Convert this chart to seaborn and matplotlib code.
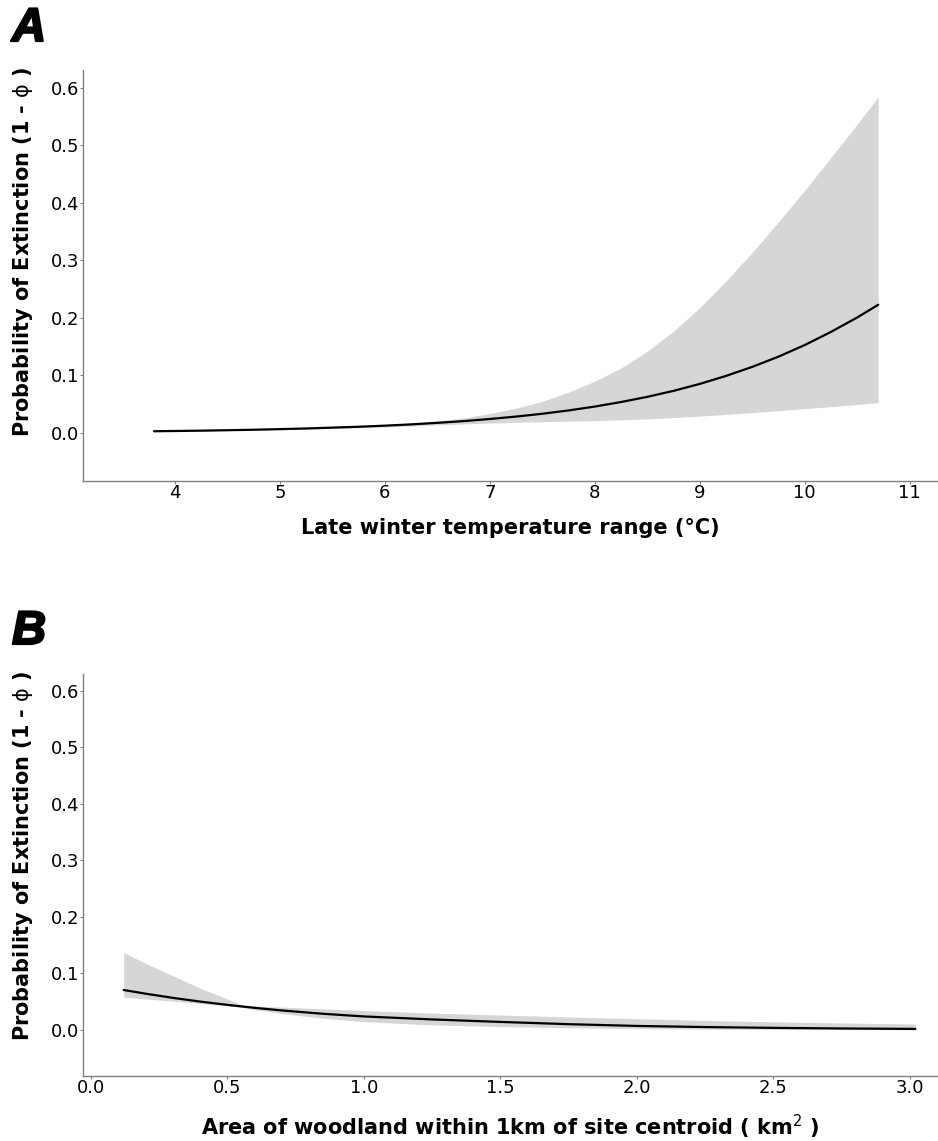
import matplotlib
matplotlib.use("Agg")
import matplotlib.pyplot as plt
import matplotlib.patheffects as pe
import seaborn as sns
import pandas as pd

# ---------------- Data ----------------
# Panel A: late winter temperature range (°C)
temp_x = [3.8, 4.25, 4.75, 5.25, 5.75, 6.0, 6.25, 6.5, 6.75, 7.0, 7.25, 7.5, 7.75,
          8.0, 8.25, 8.5, 8.75, 9.0, 9.25, 9.5, 9.75, 10.0, 10.25, 10.5, 10.7]
temp_mean = [0.0030, 0.0040, 0.0056, 0.0078, 0.0108, 0.0127, 0.0149, 0.0176, 0.0206,
             0.0243, 0.0285, 0.0334, 0.0392, 0.0459, 0.0538, 0.0628, 0.0732, 0.0853,
             0.0992, 0.1149, 0.1327, 0.1529, 0.1757, 0.2008, 0.2229]
temp_upper = [0.0034, 0.0046, 0.0065, 0.0090, 0.0124, 0.0146, 0.0175, 0.0212, 0.0260,
              0.0340, 0.0430, 0.0550, 0.0710, 0.0900, 0.1130, 0.1420, 0.1770, 0.2180,
              0.2640, 0.3140, 0.3670, 0.4220, 0.4790, 0.5370, 0.5840]
temp_lower = [0.0026, 0.0035, 0.0048, 0.0066, 0.0090, 0.0105, 0.0122, 0.0140, 0.0157,
              0.0172, 0.0185, 0.0196, 0.0205, 0.0212, 0.0228, 0.0245, 0.0268, 0.0293,
              0.0322, 0.0353, 0.0387, 0.0423, 0.0458, 0.0495, 0.0527]

# Panel B: area of woodland within 1km of site centroid (km²)
wood_x = [0.12, 0.2, 0.3, 0.4, 0.5, 0.55, 0.6, 0.7, 0.85, 1.0, 1.25, 1.5, 1.75,
          2.0, 2.25, 2.5, 2.75, 3.02]
wood_mean = [0.0708, 0.0643, 0.0569, 0.0503, 0.0445, 0.0418, 0.0392, 0.0346, 0.0287,
             0.0240, 0.0187, 0.0143, 0.0103, 0.0072, 0.0052, 0.0038, 0.0027, 0.0019]
wood_upper = [0.1370, 0.1180, 0.0960, 0.0740, 0.0550, 0.0450, 0.0425, 0.0405, 0.0375,
              0.0345, 0.0300, 0.0265, 0.0230, 0.0200, 0.0170, 0.0145, 0.0125, 0.0105]
wood_lower = [0.0580, 0.0550, 0.0510, 0.0470, 0.0425, 0.0405, 0.0360, 0.0290, 0.0210,
              0.0148, 0.0090, 0.0060, 0.0040, 0.0025, 0.0016, 0.0010, 0.0006, 0.0003]

yticks = [0.0, 0.1, 0.2, 0.3, 0.4, 0.5, 0.6]
xticks_a = [4, 5, 6, 7, 8, 9, 10, 11]
xticks_b = [0.0, 0.5, 1.0, 1.5, 2.0, 2.5, 3.0]

ylabel = "Probability of Extinction (1 - $\\phi$ )"
xlabel_a = "Late winter temperature range (\u00b0C)"
xlabel_b = "Area of woodland within 1km of site centroid ( km$^{2}$ )"

# ---------------- Style ----------------
sns.set_style("white")
plt.rcParams['font.family'] = ['DejaVu Sans']
plt.rcParams['mathtext.fontset'] = 'dejavusans'
plt.rcParams['mathtext.default'] = 'rm'
plt.rcParams['text.color'] = 'black'
plt.rcParams['axes.labelcolor'] = 'black'
plt.rcParams['xtick.color'] = 'black'
plt.rcParams['ytick.color'] = 'black'

W, H = 938, 1141
fig = plt.figure(figsize=(W / 100, H / 100), dpi=100)

def frac_axes(l, t, r, b):
    return fig.add_axes([l / W, 1 - b / H, (r - l) / W, (b - t) / H])

axA = frac_axes(83, 70, 937, 481)
axB = frac_axes(83, 674, 937, 1076)

spine_col = "#808080"
band_col = "#d6d6d6"

def style_axes(ax, xticks, xfmt, xlim, ylim, xlabel, ylab_y, xlab_pad):
    ax.set_xlim(*xlim)
    ax.set_ylim(*ylim)
    ax.set_xticks(xticks)
    ax.set_xticklabels([xfmt.format(v) for v in xticks])
    ax.set_yticks(yticks)
    ax.set_yticklabels([f"{v:.1f}" for v in yticks])
    for s in ["top", "right"]:
        ax.spines[s].set_visible(False)
    for s in ["left", "bottom"]:
        ax.spines[s].set_color(spine_col)
        ax.spines[s].set_linewidth(1.0)
    ax.tick_params(axis="both", which="major", direction="out", length=2, width=0.8,
                   color=spine_col, labelsize=13, labelcolor="black", pad=0.5,
                   bottom=True, left=True)
    ax.set_xlabel(xlabel, fontsize=15, fontweight="bold", labelpad=xlab_pad, color="black")
    ax.set_ylabel(ylabel, fontsize=15, fontweight="bold", color="black")
    ax.yaxis.set_label_coords(-0.0562, ylab_y)
    ax.grid(False)

# Panel A
dfA = pd.DataFrame({"x": temp_x, "mean": temp_mean, "lo": temp_lower, "hi": temp_upper})
axA.fill_between(dfA["x"], dfA["lo"], dfA["hi"], color=band_col, linewidth=0, zorder=1)
sns.lineplot(data=dfA, x="x", y="mean", ax=axA, color="black", linewidth=1.6, zorder=2)
style_axes(axA, xticks_a, "{:d}", (3.124, 11.26), (-0.0835, 0.631), xlabel_a, 0.557, 11)

# Panel B
dfB = pd.DataFrame({"x": wood_x, "mean": wood_mean, "lo": wood_lower, "hi": wood_upper})
axB.fill_between(dfB["x"], dfB["lo"], dfB["hi"], color=band_col, linewidth=0, zorder=1)
sns.lineplot(data=dfB, x="x", y="mean", ax=axB, color="black", linewidth=1.6, zorder=2)
style_axes(axB, xticks_b, "{:.1f}", (-0.029, 3.099), (-0.0814, 0.630), xlabel_b, 0.547, 11)

# Panel letters
for letter, ybase in [("A", 41), ("B", 644)]:
    fig.text(12 / W, 1 - ybase / H, letter, fontsize=34, fontweight="bold",
             fontstyle="italic", color="black",
             family=["Liberation Sans", "DejaVu Sans"], ha="left", va="baseline",
             path_effects=[pe.withStroke(linewidth=1.6, foreground="black")])

fig.savefig("out.png", dpi=100)
